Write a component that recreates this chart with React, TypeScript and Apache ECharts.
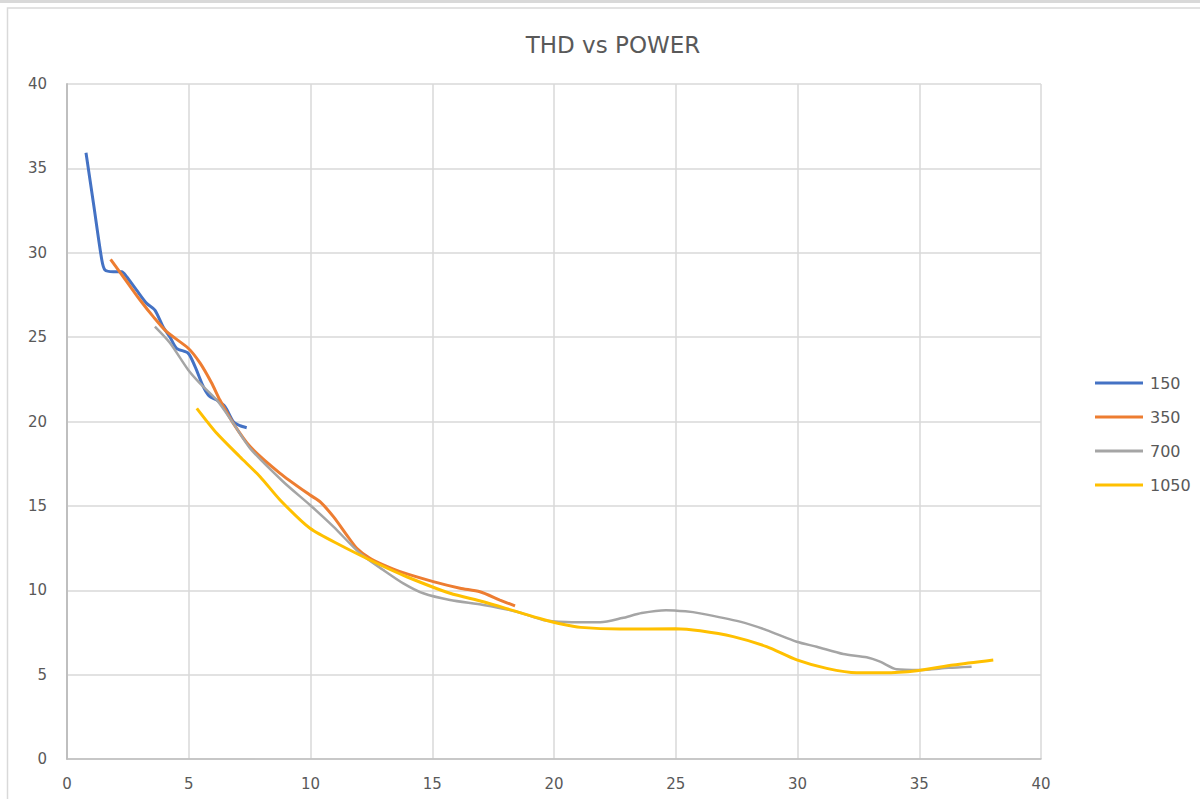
import React, { useEffect, useRef } from "react";
import * as echarts from "echarts";

const seriesNames = ["150", "350", "700", "1050"];
const seriesColors = ["#4472C4", "#ED7D31", "#A5A5A5", "#FFC000"];

const s150: [number, number][] = [
  [0.78, 35.93], [1.1, 32.8], [1.43, 29.57], [1.56, 28.98], [1.9, 28.88], [2.25, 28.88],
  [2.45, 28.58], [2.85, 27.8], [3.27, 27.0], [3.61, 26.6], [3.95, 25.6], [4.23, 25.0],
  [4.5, 24.34], [4.98, 24.04], [5.26, 23.25], [5.6, 22.06], [5.85, 21.5], [6.15, 21.27],
  [6.49, 20.88], [6.83, 19.99], [7.1, 19.75], [7.38, 19.63],
];
const s350: [number, number][] = [
  [1.79, 29.61], [2.4, 28.4], [3.0, 27.2], [3.55, 26.2], [4.09, 25.32], [4.98, 24.34],
  [5.46, 23.47], [5.94, 22.28], [6.28, 21.27], [6.83, 19.89], [7.52, 18.51], [8.75, 16.93],
  [9.98, 15.64], [10.39, 15.25], [10.94, 14.36], [11.49, 13.27], [11.9, 12.49],
  [12.44, 11.89], [12.99, 11.5], [13.68, 11.1], [15.04, 10.51], [16.14, 10.12],
  [16.96, 9.91], [17.78, 9.42], [18.4, 9.07],
];
const s700: [number, number][] = [
  [3.61, 25.62], [4.23, 24.65], [4.98, 23.05], [5.46, 22.26], [6.15, 21.27], [6.83, 19.89],
  [7.52, 18.41], [8.88, 16.43], [9.98, 15.05], [10.94, 13.77], [12.03, 12.19],
  [12.99, 11.2], [13.81, 10.41], [14.63, 9.82], [15.73, 9.42], [17.1, 9.13],
  [18.47, 8.73], [19.56, 8.24], [20.5, 8.12], [21.9, 8.1], [22.8, 8.35], [23.6, 8.65],
  [24.6, 8.82], [25.4, 8.75], [26.0, 8.63], [27.64, 8.14], [28.73, 7.64], [29.97, 6.95],
  [30.79, 6.65], [31.88, 6.22], [32.84, 6.03], [33.39, 5.77], [34.07, 5.32],
  [35.03, 5.27], [36.2, 5.4], [37.15, 5.47],
];
const s1050: [number, number][] = [
  [5.33, 20.78], [6.15, 19.3], [7.1, 17.91], [7.93, 16.73], [8.75, 15.35], [9.98, 13.67],
  [11.21, 12.68], [12.72, 11.6], [13.95, 10.8], [15.73, 9.82], [17.1, 9.32],
  [18.47, 8.73], [19.56, 8.27], [20.3, 8.0], [21.1, 7.8], [22.7, 7.7], [25.0, 7.72],
  [26.0, 7.6], [27.36, 7.25], [28.73, 6.66], [29.97, 5.87], [31.2, 5.37], [32.43, 5.11],
  [33.52, 5.11], [34.9, 5.23], [36.4, 5.57], [38.04, 5.87],
];
const allSeries = [s150, s350, s700, s1050];
const lineWidths = [3, 3, 2.5, 3];

const xTicks = { min: 0, max: 40, interval: 5 };
const yTicks = { min: 0, max: 40, interval: 5 };

const labelFont = "'DejaVu Sans', 'Liberation Sans', sans-serif";

export default function App() {
  const ref = useRef<HTMLDivElement>(null);
  useEffect(() => {
    if (!ref.current) return;
    const chart = echarts.init(ref.current, undefined, { renderer: "svg" });
    chart.setOption({
      animation: false,
      backgroundColor: "#ffffff",
      title: {
        text: "THD vs POWER",
        left: 608,
        top: 28,
        textAlign: "center",
        textStyle: {
          fontFamily: labelFont,
          fontSize: 23,
          fontWeight: "normal",
          color: "#595959",
        },
      },
      graphic: [
        { type: "rect", shape: { x: 0, y: 0, width: 1200, height: 3 }, style: { fill: "#d9d9d9" }, silent: true },
        {
          type: "rect",
          shape: { x: 7.5, y: 8, width: 1200, height: 800 },
          style: { fill: "none", stroke: "#d9d9d9", lineWidth: 1.5 },
          silent: true,
        },
      ],
      legend: {
        orient: "vertical",
        left: 1090,
        top: 370,
        itemWidth: 48,
        itemHeight: 3,
        itemGap: 18,
        icon: "rect",
        data: seriesNames,
        textStyle: { fontFamily: labelFont, fontSize: 16, color: "#595959", padding: [0, 0, 0, 2] },
      },
      grid: { left: 67, right: 159, top: 84, bottom: 40, containLabel: false },
      xAxis: {
        type: "value",
        min: xTicks.min,
        max: xTicks.max,
        interval: xTicks.interval,
        axisLine: { show: true, lineStyle: { color: "#bfbfbf", width: 1.5 } },
        axisTick: { show: false },
        splitLine: { show: true, lineStyle: { color: "#d9d9d9", width: 1.5 } },
        axisLabel: { fontFamily: labelFont, fontSize: 15, color: "#595959", margin: 17 },
      },
      yAxis: {
        type: "value",
        min: yTicks.min,
        max: yTicks.max,
        interval: yTicks.interval,
        axisLine: { show: true, lineStyle: { color: "#bfbfbf", width: 2 } },
        axisTick: { show: false },
        splitLine: { show: true, lineStyle: { color: "#d9d9d9", width: 1.5 } },
        axisLabel: { fontFamily: labelFont, fontSize: 15, color: "#595959", margin: 20 },
      },
      series: allSeries.map((d, i) => ({
        name: seriesNames[i],
        type: "line",
        data: d,
        smooth: 0.25,
        showSymbol: false,
        symbol: "none",
        lineStyle: { color: seriesColors[i], width: lineWidths[i] },
        itemStyle: { color: seriesColors[i] },
      })),
    });
    return () => chart.dispose();
  }, []);
  return (
    <div
      ref={ref}
      style={{ position: "fixed", left: 0, top: 0, width: 1200, height: 799 }}
    />
  );
}
